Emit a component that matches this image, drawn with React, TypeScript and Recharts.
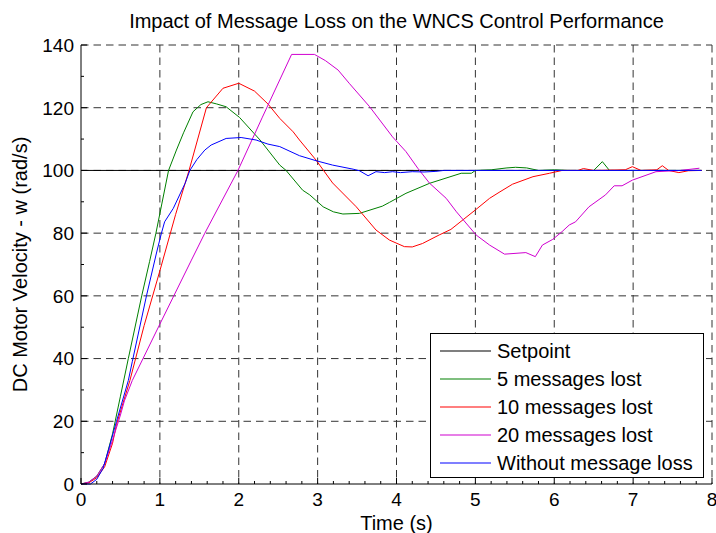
import { LineChart, Line, XAxis, YAxis, CartesianGrid, Legend, Label } from 'recharts'

const FONT = '"Liberation Sans", Arial, Helvetica, sans-serif'

// time (s) and motor velocity (rad/s)
const setpointT = [0, 7.87]
const setpointW = [100, 100]

const lost5T = [0, 0.1, 0.2, 0.3, 0.4, 0.5, 0.6, 0.77, 0.87, 0.95, 1.11, 1.21, 1.3, 1.42, 1.52, 1.61, 1.72, 1.84, 2.01, 2.27, 2.52, 2.6, 2.81, 2.9, 3.07, 3.2, 3.32, 3.53, 3.82, 3.91, 4.12, 4.42, 4.82, 4.95, 5.0, 5.2, 5.4, 5.51, 5.65, 5.8, 6.0, 6.2, 6.5, 6.61, 6.7, 7.0, 7.5, 7.87]
const lost5W = [0, 0.6, 2.5, 6.5, 16, 28, 40, 60, 71, 80, 100, 106.5, 112, 118.7, 121, 121.9, 121.2, 120.3, 116.9, 109.7, 101.7, 100, 93.7, 92.2, 88.4, 86.8, 86.1, 86.3, 88.6, 89.8, 92.7, 95.9, 99.1, 99.1, 100, 100.2, 100.8, 101, 100.8, 100, 100.2, 100, 100, 102.8, 100, 100, 100, 100]

const lost10T = [0, 0.1, 0.2, 0.3, 0.4, 0.45, 0.62, 0.8, 1.0, 1.2, 1.37, 1.59, 1.8, 2.0, 2.2, 2.37, 2.52, 2.69, 2.77, 2.98, 3.19, 3.49, 3.74, 3.91, 4.1, 4.2, 4.33, 4.54, 4.69, 5.0, 5.18, 5.3, 5.47, 5.73, 5.94, 6.1, 6.3, 6.37, 6.5, 6.9, 6.99, 7.1, 7.3, 7.37, 7.45, 7.58, 7.7, 7.87]
const lost10W = [0, 0.4, 2, 5.5, 13, 19, 33, 50.5, 68, 86, 100, 120, 126.2, 127.8, 125.3, 121.2, 116.6, 112.3, 109.7, 103.3, 96, 88.4, 81, 77.8, 75.7, 75.6, 76.7, 79.4, 81.2, 87.4, 91.1, 93, 95.6, 98, 99.1, 100, 100, 100.6, 100, 100.2, 101.2, 100, 100.2, 101.5, 100, 99.3, 99.9, 100]

const lost20T = [0, 0.1, 0.2, 0.3, 0.4, 0.5, 0.55, 0.65, 1.0, 1.4, 1.57, 1.99, 2.3, 2.67, 2.96, 3.1, 3.26, 3.4, 3.66, 3.95, 4.12, 4.27, 4.42, 4.63, 4.76, 5.01, 5.18, 5.37, 5.64, 5.76, 5.85, 5.98, 6.1, 6.19, 6.27, 6.44, 6.65, 6.76, 6.86, 6.99, 7.29, 7.6, 7.84]
const lost20W = [0, 0.6, 2.5, 6.5, 14, 22, 26.5, 33, 51, 71.4, 80, 100, 117, 137, 137, 135, 132, 127.8, 120.3, 110.7, 106, 100.7, 95.9, 91.1, 86.8, 79.4, 76.2, 73.3, 73.8, 72.5, 76.2, 78, 80.5, 82.6, 83.6, 88.4, 92.2, 95.1, 95.1, 96.9, 99.6, 100, 100.7]

const noLossT = [0, 0.12, 0.2, 0.28, 0.35, 0.45, 0.6, 0.65, 0.83, 0.96, 1.02, 1.06, 1.17, 1.32, 1.38, 1.47, 1.57, 1.65, 1.84, 2.03, 2.22, 2.37, 2.52, 2.77, 2.98, 3.19, 3.45, 3.53, 3.64, 3.74, 3.85, 3.95, 4.05, 4.2, 4.35, 4.5, 4.6, 5.0, 6.0, 7.0, 7.87]
const noLossW = [0, 0, 1.5, 5, 11, 20, 33, 39, 60, 74, 80, 83.6, 87.9, 95.9, 100, 103.5, 106.5, 108.1, 110.2, 110.5, 109.7, 108.4, 107.6, 104.7, 103.1, 101.7, 100.4, 99.9, 98.3, 99.6, 99.3, 99.6, 99.3, 99.6, 99.5, 99.7, 100, 100, 100, 100, 100]

const xMajor = [0, 1, 2, 3, 4, 5, 6, 7, 8]
const xTicks = [0, 0.2, 0.4, 0.6, 0.8, 1, 1.2, 1.4, 1.6, 1.8, 2, 2.2, 2.4, 2.6, 2.8, 3, 3.2, 3.4, 3.6, 3.8, 4, 4.2, 4.4, 4.6, 4.8, 5, 5.2, 5.4, 5.6, 5.8, 6, 6.2, 6.4, 6.6, 6.8, 7, 7.2, 7.4, 7.6, 7.8, 8]
const yMajor = [0, 20, 40, 60, 80, 100, 120, 140]
const yTicks = [0, 10, 20, 30, 40, 50, 60, 70, 80, 90, 100, 110, 120, 130, 140]

const toPoints = (t: number[], w: number[]) => t.map((x, i) => ({ t: x, w: w[i] }))

const series = [
  { name: 'Setpoint', color: '#000000', data: toPoints(setpointT, setpointW) },
  { name: '5 messages lost', color: '#008000', data: toPoints(lost5T, lost5W) },
  { name: '10 messages lost', color: '#ff0000', data: toPoints(lost10T, lost10W) },
  { name: '20 messages lost', color: '#d000d0', data: toPoints(lost20T, lost20W) },
  { name: 'Without message loss', color: '#0000ff', data: toPoints(noLossT, noLossW) }
]

const TICK_FONT = 19
const X_GAP = 9
const Y_GAP = 7

function XTick(props: any) {
  const { x, y, payload } = props
  const major = xMajor.includes(payload.value)
  const edge = y - X_GAP
  return (
    <g>
      <line x1={x} x2={x} y1={edge} y2={edge - (major ? 6 : 3)} stroke="#000" />
      {major && (
        <text x={x} y={edge + 22} textAnchor="middle" fontSize={TICK_FONT} fontFamily={FONT} fill="#000">
          {payload.value}
        </text>
      )}
    </g>
  )
}

function YTick(props: any) {
  const { x, y, payload } = props
  const major = yMajor.includes(payload.value)
  const edge = x + Y_GAP
  return (
    <g>
      <line x1={edge} x2={edge + (major ? 6 : 3)} y1={y} y2={y} stroke="#000" />
      {major && (
        <text x={x} y={y} dy="0.36em" textAnchor="end" fontSize={TICK_FONT} fontFamily={FONT} fill="#000">
          {payload.value}
        </text>
      )}
    </g>
  )
}

function YTitle(props: any) {
  const { viewBox } = props
  const cy = viewBox.y + viewBox.height / 2
  return (
    <text x={27} y={cy} transform={`rotate(-90 27 ${cy})`} textAnchor="middle" fontSize={20} fontFamily={FONT} fill="#000">
      DC Motor Velocity - w (rad/s)
    </text>
  )
}

function LegendBox() {
  return (
    <div style={{ border: '1px solid #000', background: '#fff', width: 272, paddingTop: 3, fontFamily: FONT, fontSize: 20, color: '#000' }}>
      {series.map((s) => (
        <div key={s.name} style={{ display: 'flex', alignItems: 'center', height: 28 }}>
          <svg width={51} height={4} style={{ margin: '0 6px 0 9px', display: 'block' }}>
            <line x1={0} x2={51} y1={2} y2={2} stroke={s.color} strokeWidth={1.2} />
          </svg>
          <span style={{ lineHeight: '28px', whiteSpace: 'nowrap' }}>{s.name}</span>
        </div>
      ))}
    </div>
  )
}

export default function App() {
  return (
    <div style={{ position: 'fixed', left: 0, top: 0, width: 716, height: 533, background: '#fff' }}>
      <div
        style={{
          position: 'absolute', left: 81, top: 11, width: 631, textAlign: 'center',
          fontFamily: FONT, fontSize: 20, lineHeight: '20px', color: '#000', zIndex: 1
        }}
      >
        Impact of Message Loss on the WNCS Control Performance
      </div>
      <LineChart width={716} height={533} margin={{ top: 45, right: 4, bottom: 0, left: 0 }}>
        <CartesianGrid
          stroke="#333"
          strokeDasharray="7.5 5"
          horizontalValues={[20, 40, 60, 80, 100, 120, 140]}
          verticalValues={[1, 2, 3, 4, 5, 6, 7, 8]}
        />
        <XAxis
          type="number"
          dataKey="t"
          domain={[0, 8]}
          ticks={xTicks}
          interval={0}
          height={49}
          tickSize={0}
          tickMargin={X_GAP}
          tickLine={false}
          tick={<XTick />}
          axisLine={{ stroke: '#000' }}
        >
          <Label value="Time (s)" position="insideBottom" offset={3} fontSize={20} fontFamily={FONT} fill="#000" />
        </XAxis>
        <YAxis
          type="number"
          dataKey="w"
          domain={[0, 140]}
          ticks={yTicks}
          interval={0}
          width={81}
          tickSize={0}
          tickMargin={Y_GAP}
          tickLine={false}
          tick={<YTick />}
          axisLine={{ stroke: '#000' }}
        >
          <Label content={<YTitle />} />
        </YAxis>
        <Legend
          layout="vertical"
          align="center"
          verticalAlign="middle"
          content={<LegendBox />}
          wrapperStyle={{ left: 430, top: 333, width: 274 }}
        />
        {series.map((s) => (
          <Line
            key={s.name}
            data={s.data}
            dataKey="w"
            name={s.name}
            type="linear"
            stroke={s.color}
            strokeWidth={1}
            dot={false}
            activeDot={false}
            isAnimationActive={false}
          />
        ))}
      </LineChart>
    </div>
  )
}
